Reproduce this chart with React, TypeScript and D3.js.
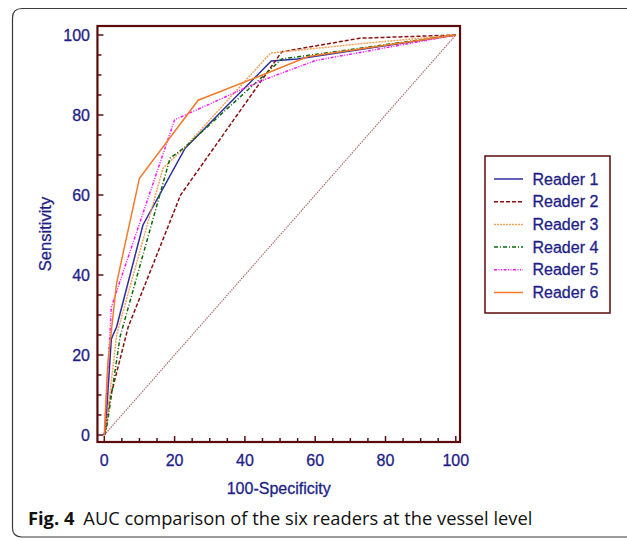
import React from "react";
import * as d3 from "d3";

const readerNames = ["Reader 1", "Reader 2", "Reader 3", "Reader 4", "Reader 5", "Reader 6"];

const reader1: [number, number][] = [[0, 0], [0.3, 1], [2, 24], [3.5, 27], [11, 52.5], [23, 71.7], [47.5, 93.5], [55, 94], [100, 100]];
const reader2: [number, number][] = [[0, 0], [0.3, 1], [1.6, 9], [6.8, 27], [21.7, 60], [50.5, 95.8], [72.7, 99.2], [100, 100]];
const reader3: [number, number][] = [[0, 0], [0.8, 4], [3.5, 25], [16.7, 66.7], [23, 72], [47.3, 95.5], [75, 98], [100, 100]];
const reader4: [number, number][] = [[0, 0], [0.7, 2], [4.5, 24.6], [18.7, 69.2], [23, 72], [50.5, 94], [100, 100]];
const reader5: [number, number][] = [[0, 0], [0.8, 12], [2, 32], [20, 78.8], [44.5, 88.5], [60, 93.6], [100, 100]];
const reader6: [number, number][] = [[0, 0], [1, 18], [3.5, 38], [10, 64.2], [26.7, 83.7], [45, 90], [58, 94.6], [100, 100]];
const referenceLine: [number, number][] = [[0, 0], [100, 100]];

const majorTicks = [0, 20, 40, 60, 80, 100];
const minorTicks = d3.range(0, 101, 5);

const seriesData = [reader1, reader2, reader3, reader4, reader5, reader6];
const seriesColors = ["#2e2e9e", "#8b1010", "#f2a25a", "#0a6a0a", "#ff14ff", "#f27a2a"];
const seriesDash = ["", "4,2", "2,1", "4,2,1,2", "3,1.5,1,1.5,1,1.5", ""];

export default function App() {
  const x = d3.scaleLinear().domain([0, 100]).range([104.3, 455.8]);
  const y = d3.scaleLinear().domain([0, 100]).range([435, 35]);
  const fx0 = x(-1.95), fx1 = x(101.2), fy0 = y(-1.75), fy1 = y(102.25);
  const line = d3.line<[number, number]>().x(d => x(d[0])).y(d => y(d[1]));
  const axisColor = "#5a0c0c";
  const labelColor = "#1e1e88";
  const font = "'Liberation Sans', Arial, sans-serif";
  const legX = 485, legY = 156, legW = 125, legH = 157;
  const txt = { fontFamily: font, fill: labelColor, stroke: labelColor, strokeWidth: 0.3 };

  return (
    <svg width={627} height={540} style={{ position: "absolute", left: 0, top: 0 }} xmlns="http://www.w3.org/2000/svg">
      <rect x={0} y={0} width={627} height={540} fill="#fff" />
      <path d="M 640 8.5 L 22 8.5 Q 12.5 8.5 12.5 18 L 12.5 528 Q 12.5 537 22 537 L 640 537" fill="none" stroke="#3a3a3a" strokeWidth={1.2} />

      {/* reference diagonal */}
      <path d={line(referenceLine) || ""} fill="none" stroke="#b07070" strokeWidth={1.2} strokeDasharray="1.5,1" />

      {seriesData.map((s, i) => (
        <path key={i} d={line(s) || ""} fill="none" stroke={seriesColors[i]} strokeWidth={1.5} strokeDasharray={seriesDash[i]} />
      ))}

      {/* frame */}
      <rect x={fx0} y={fy1} width={fx1 - fx0} height={fy0 - fy1} fill="none" stroke={axisColor} strokeWidth={2.2} />

      {/* ticks */}
      {minorTicks.map(t => {
        const major = t % 20 === 0;
        return (
          <g key={t}>
            <line x1={x(t)} x2={x(t)} y1={fy0} y2={fy0 - (major ? 6 : 4)} stroke={axisColor} strokeWidth={1.5} />
            <line x1={fx0} x2={fx0 + (major ? 6 : 4)} y1={y(t)} y2={y(t)} stroke={axisColor} strokeWidth={1.5} />
          </g>
        );
      })}
      {majorTicks.map(t => (
        <g key={"l" + t}>
          <text x={x(t)} y={466} textAnchor="middle" fontSize={16} {...txt}>{t}</text>
          <text x={90} y={y(t) + 5.5} textAnchor="end" fontSize={16} {...txt}>{t}</text>
        </g>
      ))}

      <text x={(fx0 + fx1) / 2} y={494} textAnchor="middle" fontSize={16} {...txt}>100-Specificity</text>
      <text transform={`translate(51, ${(fy0 + fy1) / 2}) rotate(-90)`} textAnchor="middle" fontSize={16.5} {...txt}>Sensitivity</text>

      {/* legend */}
      <rect x={legX} y={legY} width={legW} height={legH} fill="#fff" stroke={axisColor} strokeWidth={1.5} />
      {readerNames.map((n, i) => {
        const cy = 179 + i * 22.7;
        return (
          <g key={n}>
            <line x1={494} x2={523} y1={cy} y2={cy} stroke={seriesColors[i]} strokeWidth={1.5} strokeDasharray={seriesDash[i]} />
            <text x={532.5} y={cy + 5.5} fontSize={16} {...txt}>{n}</text>
          </g>
        );
      })}

      {/* caption */}
      <text x={28} y={525} fontFamily="'Open Sans', 'Noto Sans', sans-serif" fontSize={18.3} fill="#111">
        <tspan fontWeight="bold">Fig. 4</tspan>
        <tspan dx={9}>AUC comparison of the six readers at the vessel level</tspan>
      </text>
    </svg>
  );
}
